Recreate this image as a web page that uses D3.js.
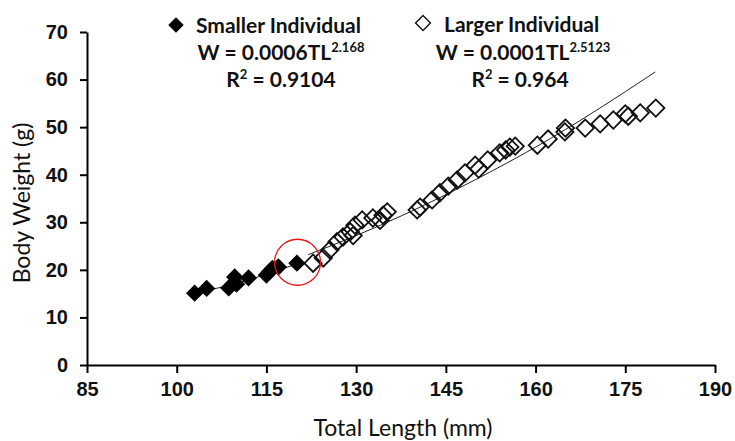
<!DOCTYPE html>
<html>
<head>
<meta charset="utf-8">
<script src="https://cdn.jsdelivr.net/npm/d3@7"></script>
<style>
  body { margin: 0; background: #fff; }
  svg { display: block; font-family: Lato, "Open Sans", sans-serif; }
  .tick text { font-weight: bold; font-size: 20px; fill: #111; }
  .axis path, .axis line { stroke: #000; stroke-width: 2px; }
  .title { font-size: 23px; fill: #111; }
  .leg { font-size: 21px; font-weight: bold; fill: #111; }
</style>
</head>
<body>
<svg width="735" height="441"></svg>
<script>
// smaller individual (filled diamonds)
var smallTL = [103, 105, 108.7, 109.7, 110, 112, 115, 115.5, 116, 117, 120.1];
var smallW  = [15.1, 16.1, 16.2, 18.5, 17, 18.3, 18.9, 19.6, 20.3, 20.6, 21.4];

// larger individual (open diamonds)
var largeTL = [122.8, 124.5, 125.6, 126.8, 127.8, 129, 129.5, 129.8, 131, 132.8, 134, 134.5, 135.2,
               140.2, 140.7, 142.7, 144, 145.4, 146.9, 148.2, 149.9, 150.5, 152, 154, 155, 155.7, 156.6,
               160.3, 162.1, 164.9, 165, 168.3, 170.8, 173, 175.5, 175, 177.5, 180.1];
var largeW  = [21.4, 22.5, 24.2, 25.9, 26.9, 28, 27.2, 29.4, 30.5, 30.9, 30.4, 31.5, 32.2,
               32.6, 33.2, 34.7, 36.2, 37.6, 38.9, 40.4, 42, 41.2, 43.1, 44.6, 45.2, 45.8, 46,
               46.2, 47.5, 49, 49.8, 49.8, 50.7, 51.5, 52.3, 52.8, 53, 54];

// trend lines
var smallFitTL = [103, 108, 112, 116, 120];
var smallFitW  = [15.2, 16.5, 17.9, 19.5, 21.2];
var largeFitTL = [122, 130, 138, 150, 160, 170, 180];
var largeFitW  = [23.2, 27.2, 31.6, 39, 45.8, 53.4, 61.6];

var xTicks = [85, 100, 115, 130, 145, 160, 175, 190];
var yTicks = [0, 10, 20, 30, 40, 50, 60, 70];

var svg = d3.select("svg");
var x = d3.scaleLinear().domain([85, 190]).range([87, 715]);
var y = d3.scaleLinear().domain([0, 70]).range([365, 32]);

svg.append("g").attr("class", "axis")
  .attr("transform", "translate(0,365)")
  .call(d3.axisBottom(x).tickValues(xTicks).tickSize(8).tickSizeOuter(0).tickPadding(6))
  .selectAll(".tick text").attr("dy", "0.85em");

svg.append("g").attr("class", "axis")
  .attr("transform", "translate(87,0)")
  .call(d3.axisLeft(y).tickValues(yTicks).tickSize(7).tickSizeOuter(0).tickPadding(12));

// trend lines
var line = d3.line().x(function(d) { return x(d[0]); }).y(function(d) { return y(d[1]); }).curve(d3.curveMonotoneX);
svg.append("path").datum(d3.zip(smallFitTL, smallFitW))
  .attr("d", line).attr("fill", "none").attr("stroke", "#222").attr("stroke-width", 1);
svg.append("path").datum(d3.zip(largeFitTL, largeFitW))
  .attr("d", line).attr("fill", "none").attr("stroke", "#222").attr("stroke-width", 1);

var diamond = d3.symbol().type(d3.symbolSquare).size(150);

svg.append("g").selectAll("path")
  .data(d3.zip(largeTL, largeW)).enter().append("path")
  .attr("d", diamond)
  .attr("transform", function(d) { return "translate(" + x(d[0]) + "," + y(d[1]) + ") rotate(45)"; })
  .attr("fill", "none").attr("stroke", "#111").attr("stroke-width", 1.8);

svg.append("g").selectAll("path")
  .data(d3.zip(smallTL, smallW)).enter().append("path")
  .attr("d", diamond)
  .attr("transform", function(d) { return "translate(" + x(d[0]) + "," + y(d[1]) + ") rotate(45)"; })
  .attr("fill", "#000");

// red circle highlighting the switch point
svg.append("circle")
  .attr("cx", x(120.2)).attr("cy", y(21.6)).attr("r", 23)
  .attr("fill", "none").attr("stroke", "#e8191c").attr("stroke-width", 1.3);

// legend
svg.append("path").attr("d", d3.symbol().type(d3.symbolSquare).size(120))
  .attr("transform", "translate(176,25) rotate(45)").attr("fill", "#000");
svg.append("text").attr("class", "leg").attr("x", 196).attr("y", 33).text("Smaller Individual");
var t1 = svg.append("text").attr("class", "leg").attr("x", 281).attr("y", 60).attr("text-anchor", "middle");
t1.append("tspan").text("W = 0.0006TL");
t1.append("tspan").attr("dy", -8).attr("font-size", 13).text("2.168");
var r1 = svg.append("text").attr("class", "leg").attr("x", 281).attr("y", 87).attr("text-anchor", "middle");
r1.append("tspan").text("R");
r1.append("tspan").attr("dy", -8).attr("font-size", 13).text("2");
r1.append("tspan").attr("dy", 8).text(" = 0.9104");

svg.append("path").attr("d", d3.symbol().type(d3.symbolSquare).size(110))
  .attr("transform", "translate(423,23) rotate(45)").attr("fill", "none").attr("stroke", "#111").attr("stroke-width", 1.4);
svg.append("text").attr("class", "leg").attr("x", 444).attr("y", 32).text("Larger Individual");
var t2 = svg.append("text").attr("class", "leg").attr("x", 523).attr("y", 60).attr("text-anchor", "middle");
t2.append("tspan").text("W = 0.0001TL");
t2.append("tspan").attr("dy", -8).attr("font-size", 13).text("2.5123");
var r2 = svg.append("text").attr("class", "leg").attr("x", 520).attr("y", 87).attr("text-anchor", "middle");
r2.append("tspan").text("R");
r2.append("tspan").attr("dy", -8).attr("font-size", 13).text("2");
r2.append("tspan").attr("dy", 8).text(" = 0.964");

// axis titles
svg.append("text").attr("class", "title").attr("x", 403).attr("y", 436)
  .attr("text-anchor", "middle").text("Total Length (mm)");
svg.append("text").attr("class", "title")
  .attr("transform", "translate(30,203) rotate(-90)")
  .attr("text-anchor", "middle").text("Body Weight (g)");
</script>
</body>
</html>
